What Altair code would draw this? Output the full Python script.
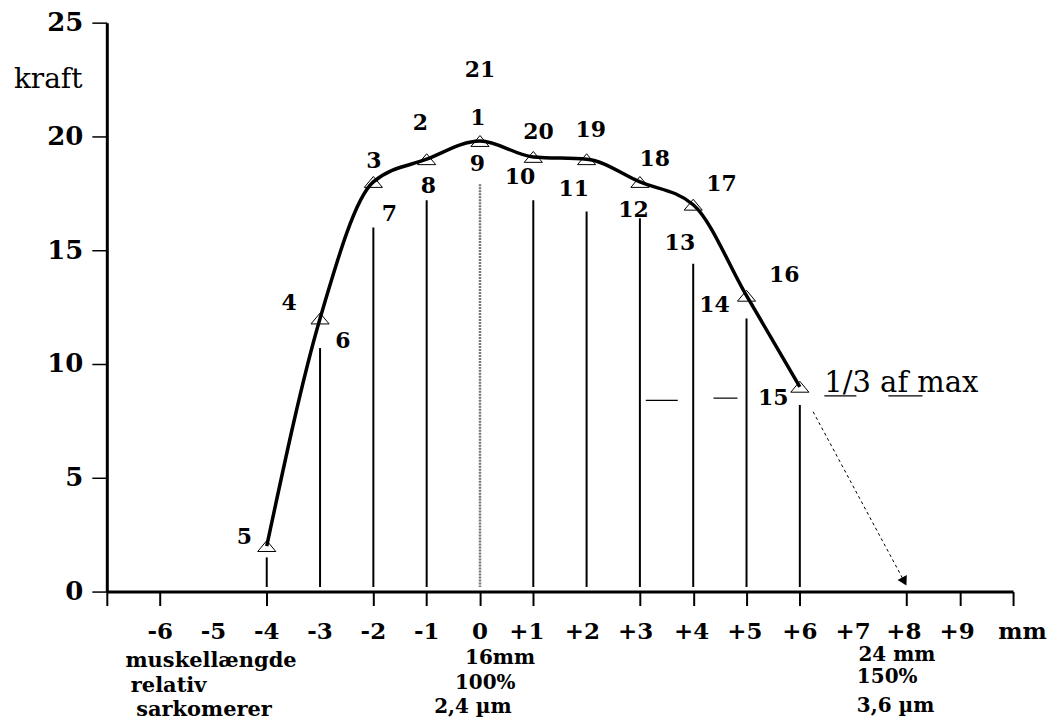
import altair as alt
import pandas as pd

# ---- data ----
curve_x = [-4, -3, -2, -1, 0, 1, 2, 3, 4, 5, 6]
curve_y = [2.0, 12.0, 18.0, 19.0, 19.8, 19.1, 19.0, 18.0, 17.0, 13.0, 9.0]

bar_x = [-4, -3, -2, -1, 0, 1, 2, 3, 4, 5, 6]
bar_top = [1.5, 10.7, 16.0, 17.2, 17.9, 17.2, 16.7, 16.4, 14.4, 12.0, 8.2]
bar_base = 0.2

num_text = ["21", "1", "2", "3", "9", "8", "7", "20", "19", "10", "11",
            "18", "12", "17", "13", "16", "14", "15", "5", "4", "6"]
num_x = [0.0, -0.04, -1.12, -1.99, -0.05, -0.97, -1.7, 1.1, 2.08, 0.75, 1.76,
         3.28, 2.88, 4.53, 3.75, 5.71, 4.4, 5.5, -4.42, -3.58, -2.57]
num_y = [22.9, 20.8, 20.6, 18.9, 18.8, 17.8, 16.6, 20.2, 20.3, 18.2, 17.7,
         19.0, 16.75, 17.9, 15.3, 13.9, 12.6, 8.5, 2.4, 12.7, 11.0]

x_tick_values = [-7, -6, -4, -2, -1, 0, 1, 3, 4, 5, 6, 8, 9, 10]
y_tick_values = [0, 5, 10, 15, 20, 25]

x_label_text = ["-6", "-5", "-4", "-3", "-2", "-1", "0", "+1", "+2", "+3",
                "+4", "+5", "+6", "+7", "+8", "+9"]
x_label_pos = [-6, -5, -4, -3, -2, -1, 0, 0.88, 1.92, 2.92, 3.97, 4.97, 6.0,
               7.0, 7.95, 8.95]
x_label_y = -2.1
unit_text = "mm"
unit_x = 9.72

row_text = ["muskellængde", "relativ", "sarkomerer"]
row_x = [-6.65, -6.55, -6.45]
row_y = [-3.33, -4.43, -5.48]

mid_text = ["16mm", "100%", "2,4 µm"]
mid_x = [-0.28, -0.47, -0.86]
mid_y = [-3.2, -4.3, -5.35]

right_text = ["24 mm", "150%", "3,6 µm"]
right_x = [7.1, 7.07, 7.07]
right_y = [-3.05, -4.0, -5.31]

dash_x1 = [3.11, 4.38, 6.46, 7.66]
dash_x2 = [3.71, 4.83, 7.06, 8.30]
dash_y = [8.4, 8.5, 8.6, 8.6]

arrow_x = [6.25, 7.96]
arrow_y = [7.9, 0.44]

# ---- tables ----
curve = pd.DataFrame({"x": curve_x, "y": curve_y})
bars = pd.DataFrame({"x": bar_x, "y": bar_top, "y2": [bar_base] * len(bar_x)})
bars_black = bars[bars["x"] != 0]
bars_grey = bars[bars["x"] == 0]
nums = pd.DataFrame({"x": num_x, "y": num_y, "t": num_text})
xlabs = pd.DataFrame({"x": x_label_pos, "y": [x_label_y] * len(x_label_pos), "t": x_label_text})
unit = pd.DataFrame({"x": [unit_x], "y": [x_label_y], "t": [unit_text]})
rows = pd.DataFrame({"x": row_x, "y": row_y, "t": row_text})
stacks = pd.DataFrame({"x": mid_x + right_x, "y": mid_y + right_y,
                       "t": mid_text + right_text})
dashes = pd.DataFrame({"x": dash_x1, "x2": dash_x2, "y": dash_y})
arrow_line = pd.DataFrame({"x": [arrow_x[0]], "x2": [arrow_x[1]], "y": [arrow_y[0]], "y2": [arrow_y[1]]})
arrow_head = pd.DataFrame({"x": [arrow_x[1]], "y": [arrow_y[1]]})
kraft = pd.DataFrame({"x": [-8.1], "y": [22.5], "t": ["kraft"]})
third = pd.DataFrame({"x": [6.46], "y": [9.17], "t": ["1/3 af max"]})

xscale = alt.Scale(domain=[-7, 10], nice=False, zero=False)
yscale = alt.Scale(domain=[0, 25], nice=False, zero=False)

xaxis = alt.Axis(values=x_tick_values, labels=False, title=None, grid=False,
                 domainColor="black", domainWidth=3, tickColor="black",
                 tickWidth=2, tickSize=14)
yaxis = alt.Axis(values=y_tick_values, title=None, grid=False,
                 domainColor="black", domainWidth=3, tickColor="black",
                 tickWidth=1.5, tickSize=15, labelFont="DejaVu Serif",
                 labelFontWeight="bold", labelFontSize=26, labelColor="black",
                 labelPadding=9, labelFlush=False, labelBound=False,
                 labelOverlap=False)

X = alt.X("x:Q", scale=xscale, axis=xaxis)
Y = alt.Y("y:Q", scale=yscale, axis=yaxis)

tri_path = "M -1 0.6 L 0 -0.6 L 1 0.6 Z"

bar_layer = alt.Chart(bars_black).mark_rule(color="black", strokeWidth=2).encode(
    x=X, y=Y, y2="y2:Q")
bar_zero = alt.Chart(bars_grey).mark_rule(color="#777777", strokeWidth=2.5,
                                         strokeDash=[2, 1]).encode(x=X, y=Y, y2="y2:Q")

line_layer = alt.Chart(curve).mark_line(color="black", strokeWidth=3.5,
                                        interpolate="monotone").encode(x=X, y=Y)
tri_layer = alt.Chart(curve).mark_point(shape=tri_path, filled=False,
                                        stroke="black", strokeWidth=1,
                                        size=330, opacity=1).encode(x=X, y=Y)

num_layer = alt.Chart(nums).mark_text(font="DejaVu Serif", fontWeight="bold",
                                      fontSize=22, color="black",
                                      align="center", baseline="middle").encode(
    x=X, y=Y, text="t:N")

xlab_layer = alt.Chart(xlabs).mark_text(font="DejaVu Serif", fontWeight="bold",
                                        fontSize=23, color="black",
                                        align="center", baseline="alphabetic").encode(
    x=X, y=Y, text="t:N")
unit_layer = alt.Chart(unit).mark_text(font="DejaVu Serif", fontWeight="bold",
                                       fontSize=23, color="black",
                                       align="left", baseline="alphabetic").encode(
    x=X, y=Y, text="t:N")

row_layer = alt.Chart(rows).mark_text(font="DejaVu Serif", fontWeight="bold",
                                      fontSize=21, color="black",
                                      align="left", baseline="alphabetic").encode(
    x=X, y=Y, text="t:N")
stack_layer = alt.Chart(stacks).mark_text(font="DejaVu Serif", fontWeight="bold",
                                          fontSize=20, color="black",
                                          align="left", baseline="alphabetic").encode(
    x=X, y=Y, text="t:N")

dash_layer = alt.Chart(dashes).mark_rule(color="black", strokeWidth=1.2).encode(
    x=X, x2="x2:Q", y=Y)

arrow_layer = alt.Chart(arrow_line).mark_rule(color="black", strokeWidth=1,
                                              strokeDash=[3, 3]).encode(
    x=X, x2="x2:Q", y=Y, y2="y2:Q")
arrow_head_layer = alt.Chart(arrow_head).mark_point(shape="triangle-down",
                                                    filled=True, color="black",
                                                    size=110, angle=332,
                                                    opacity=1).encode(x=X, y=Y)

kraft_layer = alt.Chart(kraft).mark_text(font="DejaVu Serif", fontSize=28,
                                         color="black", align="center",
                                         baseline="middle").encode(x=X, y=Y, text="t:N")
third_layer = alt.Chart(third).mark_text(font="DejaVu Serif", fontSize=29,
                                         color="black", align="left",
                                         baseline="middle").encode(x=X, y=Y, text="t:N")

chart = alt.layer(
    bar_layer, bar_zero, dash_layer, arrow_layer, arrow_head_layer,
    line_layer, tri_layer, num_layer, xlab_layer, unit_layer, row_layer,
    stack_layer, kraft_layer, third_layer
).properties(
    width=908, height=570,
    padding={"left": 99, "top": 14, "right": 36, "bottom": 130},
    autosize=alt.AutoSizeParams(type="none"),
    background="white",
).configure_view(stroke=None)

chart.save("out.html", embed_options={"renderer": "svg", "actions": False})
